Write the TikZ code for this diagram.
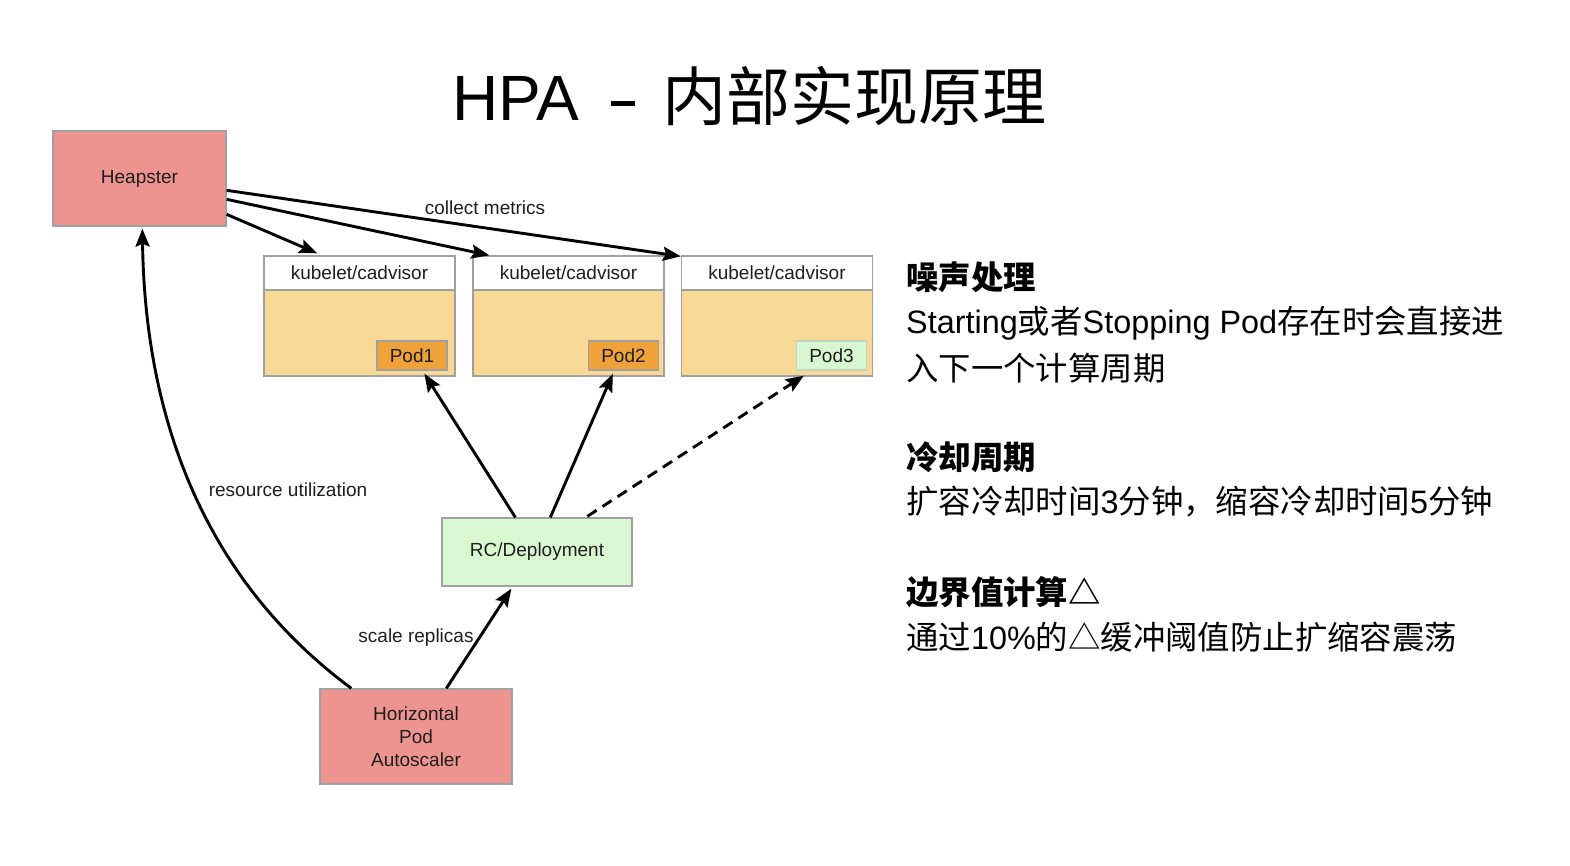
\documentclass[tikz,border=0pt]{standalone}
\usepackage{fontspec}
\setmainfont{Liberation Sans}
\newfontfamily\cjk{Noto Sans CJK SC}
\newfontfamily\lat{Liberation Sans}
\usetikzlibrary{arrows.meta,calc}

\definecolor{salmon}{RGB}{238,148,144}
\definecolor{nodebody}{RGB}{248,216,149}
\definecolor{podorange}{RGB}{240,162,58}
\definecolor{podgreen}{RGB}{216,247,208}
\definecolor{rcgreen}{RGB}{217,248,210}
\definecolor{boxline}{RGB}{160,160,160}
\definecolor{txt}{RGB}{30,30,30}

\tikzset{
  box/.style={draw=boxline, line width=1.3pt, inner sep=0pt, align=center,
    font=\fontsize{19}{23}\selectfont, text=txt},
  hot/.style={box, fill=salmon},
  kbody/.style={box, fill=nodebody, minimum width=191pt, minimum height=120pt},
  khead/.style={box, fill=white, minimum width=191pt, minimum height=34pt},
  pod/.style={box, minimum width=70pt, minimum height=29pt},
  conn/.style={line width=2.9pt, -{Stealth[length=18pt,width=14pt,inset=3pt]}},
  lbl/.style={font=\fontsize{19}{23}\selectfont, text=txt, inner sep=1pt},
  head/.style={anchor=west, inner sep=0pt, font=\cjk\bfseries\fontsize{32.4}{38}\selectfont},
  body/.style={anchor=west, inner sep=0pt, font=\cjk\fontsize{32.4}{38}\selectfont},
}

\begin{document}
\begin{tikzpicture}[x=1pt,y=-1pt]
\useasboundingbox (0,0) rectangle (1570,866);
\fill[white] (0,0) rectangle (1570,866);

% title
\node[anchor=base west, inner sep=0pt, font=\fontsize{64}{70}\selectfont] (title) at (452,121)
  {\lat HPA\hspace{32pt}\rule[15pt]{24pt}{4.5pt}\hspace{27pt}\cjk 内部实现原理};

% heapster and autoscaler
\node[hot, minimum width=173pt, minimum height=95pt] (heap) at (139.5,178.5) {Heapster};
\node[hot, minimum width=192pt, minimum height=95pt] (hpa) at (416,736.5)
  {Horizontal\\Pod\\Autoscaler};

% nodes with kubelet/cadvisor header
\node[kbody] (k1) at (359.5,316) {};
\node[kbody] (k2) at (568.5,316) {};
\node[kbody] (k3) at (777,316) {};
\node[khead, anchor=north] (h1) at (k1.north) {kubelet/cadvisor};
\node[khead, anchor=north] (h2) at (k2.north) {kubelet/cadvisor};
\node[khead, anchor=north] (h3) at (k3.north) {kubelet/cadvisor};

% pods
\node[pod, fill=podorange] (pod1) at (412,355.5) {Pod1};
\node[pod, fill=podorange] (pod2) at (623.5,355.5) {Pod2};
\node[pod, fill=podgreen, draw=podgreen!60!boxline] (pod3) at (831.5,355.5) {Pod3};

% controller
\node[box, fill=rcgreen, minimum width=190pt, minimum height=68pt] (rc) at (537,552) {RC/Deployment};

% metric collection
\draw[conn] ($(heap.north east)+(0,60)$) -- ($(h3.north west)+(0,1)$);
\draw[conn] ($(heap.north east)+(0,69)$) -- ($(h2.north west)+(17,0)$);
\draw[conn] ($(heap.north east)+(0,84)$) -- ($(h1.north west)+(54,-2)$);
\node[lbl] (lcollect) at (485,208) {collect metrics};

% controller to pods
\draw[conn] ($(rc.north west)+(74,0)$) -- ($(pod1.south west)+(48,3)$);
\draw[conn] ($(rc.north west)+(109,0)$) -- ($(pod2.south west)+(25,3)$);
\draw[conn, dashed, dash pattern=on 11pt off 7pt] ($(rc.north west)+(146,-1)$) -- ($(pod3.south west)+(8,5)$);

% autoscaler
\draw[conn] ($(hpa.north west)+(127,0)$) -- ($(rc.south west)+(70,2)$);
\node[lbl] (lscale) at (416,638) {scale replicas};
\draw[conn] ($(hpa.north west)+(32,0)$) .. controls (205,580) and (145,420) .. ($(heap.south west)+(90,2)$);
\node[lbl] (lres) at (288,490) {resource utilization};

% notes
\node[head] (n1) at (906,277) {噪声处理};
\node[body] (n1a) at (906,323) {{\lat Starting}或者{\lat Stopping Pod}存在时会直接进};
\node[body] (n1b) at (906,368) {入下一个计算周期};
\node[head] (n2) at (906,457) {冷却周期};
\node[body] (n2a) at (906,502) {扩容冷却时间{\lat 3}分钟，缩容冷却时间{\lat 5}分钟};
\node[head] (n3) at (906,592) {边界值计算△};
\node[body] (n3a) at (906,637) {通过{\lat 10\%}的△缓冲阈值防止扩缩容震荡};
\end{tikzpicture}
\end{document}
